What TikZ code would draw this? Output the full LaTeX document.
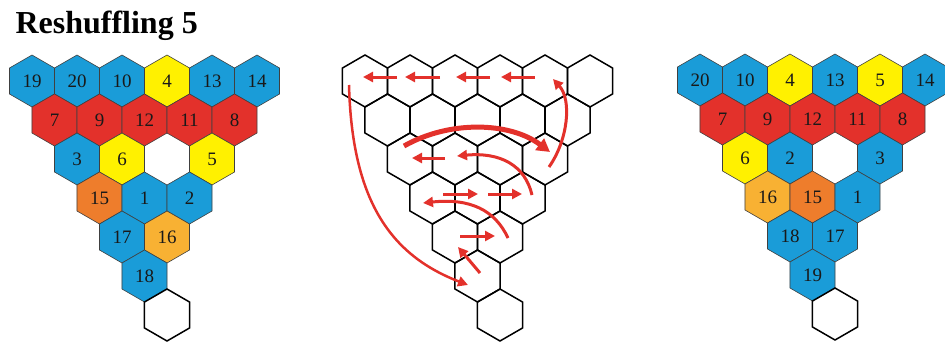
\documentclass[tikz,border=0pt]{standalone}
\usepackage{fontspec}
\setmainfont{Liberation Serif}
\usetikzlibrary{shapes.geometric,arrows.meta}

\definecolor{tileblue}{HTML}{1A9CD8}
\definecolor{tilered}{HTML}{E3312B}
\definecolor{tileyellow}{HTML}{FFF100}
\definecolor{tileorange}{HTML}{EE7D2C}
\definecolor{tilegold}{HTML}{F8B133}
\definecolor{movered}{HTML}{E3312B}

\begin{document}
\begin{tikzpicture}[x=1pt, y=-1pt,
  hexa/.style={regular polygon, regular polygon sides=6, shape border rotate=30,
    minimum size=52pt, inner sep=0pt, outer sep=0pt, draw=black!75, line width=0.6pt,
    font=\fontsize{19}{19}\selectfont, text=black!90},
  blank/.style={hexa, draw=black, line width=1.5pt, fill=white},
  cell/.style={hexa, draw=black, line width=1.5pt},
  move/.style={draw=movered, line width=3pt, -{Triangle[length=10pt,width=10pt]}},
  bigmove/.style={move, line width=5pt, -{Triangle[length=13pt,width=14pt]}}]
  \useasboundingbox (0,0) rectangle (945,343);
  \node[anchor=base west, font=\fontsize{32}{32}\selectfont\bfseries] (title) at (12,33) {Reshuffling 5};

  % row r, place i:  x = x0 + 22.5 r + 45 i,  y = y0 + 39 r
  % before: left triangle, x0 = 32, y0 = 81
  \foreach \r/\i/\n/\c in {0/0/19/tileblue, 0/1/20/tileblue, 0/2/10/tileblue, 0/3/4/tileyellow,
      0/4/13/tileblue, 0/5/14/tileblue,
      1/0/7/tilered, 1/1/9/tilered, 1/2/12/tilered, 1/3/11/tilered, 1/4/8/tilered,
      2/0/3/tileblue, 2/1/6/tileyellow, 2/3/5/tileyellow,
      3/0/15/tileorange, 3/1/1/tileblue, 3/2/2/tileblue,
      4/0/17/tileblue, 4/1/16/tilegold,
      5/0/18/tileblue}
    \node[hexa, fill=\c] (L\n) at ({32+22.5*\r+45*\i}, {81+39*\r}) {\n};
  \node[blank] (Lend) at (167, 315) {};

  % moves: empty grid, x0 = 365, y0 = 81
  \foreach \r in {0,...,5} {
    \pgfmathtruncatemacro\last{5-\r}
    \foreach \i in {0,...,\last}
      \node[cell] (M\r\i) at ({365+22.5*\r+45*\i}, {81+39*\r}) {};
  }
  \node[cell] (M60) at (500, 315) {};

  % tails (t) and heads (h) of the moves
  \coordinate (t20) at (397,77);  \coordinate (h20) at (363,77);
  \coordinate (t10) at (440,77);  \coordinate (h10) at (405,77);
  \coordinate (t4)  at (490,77);  \coordinate (h4)  at (456,77);
  \coordinate (t13) at (535,77);  \coordinate (h13) at (501,77);
  \coordinate (t19) at (349,85);  \coordinate (h19) at (468,285);
  \coordinate (t5)  at (549,167); \coordinate (h5)  at (553,79);
  \coordinate (t3)  at (404,146); \coordinate (h3)  at (550,152);
  \coordinate (t6)  at (445,158); \coordinate (h6)  at (412,158);
  \coordinate (t2)  at (532,195); \coordinate (h2)  at (457,156);
  \coordinate (t15) at (443,194); \coordinate (h15) at (478,194);
  \coordinate (t1)  at (488,194); \coordinate (h1)  at (522,194);
  \coordinate (t16) at (508,238); \coordinate (h16) at (423,203);
  \coordinate (t17) at (460,236); \coordinate (h17) at (495,236);
  \coordinate (t18) at (480,273); \coordinate (h18) at (458,247);

  \foreach \n in {20,10,4,13,6,15,1,17,18}
    \draw[move] (t\n) -- (h\n);
  \draw[move, line width=2.5pt] (t19) .. controls (352,200) and (390,255) .. (h19);
  \draw[move] (t5) .. controls (568,140) and (572,100) .. (h5);
  \draw[bigmove] (t3) .. controls (450,120) and (510,122) .. (h3);
  \draw[move] (t2) .. controls (525,165) and (500,152) .. (h2);
  \draw[move] (t16) .. controls (495,210) and (470,198) .. (h16);

  % after: right triangle, x0 = 700, y0 = 80
  \foreach \r/\i/\n/\c in {0/0/20/tileblue, 0/1/10/tileblue, 0/2/4/tileyellow, 0/3/13/tileblue,
      0/4/5/tileyellow, 0/5/14/tileblue,
      1/0/7/tilered, 1/1/9/tilered, 1/2/12/tilered, 1/3/11/tilered, 1/4/8/tilered,
      2/0/6/tileyellow, 2/1/2/tileblue, 2/3/3/tileblue,
      3/0/16/tilegold, 3/1/15/tileorange, 3/2/1/tileblue,
      4/0/18/tileblue, 4/1/17/tileblue,
      5/0/19/tileblue}
    \node[hexa, fill=\c] (R\n) at ({700+22.5*\r+45*\i}, {80+39*\r}) {\n};
  \node[blank] (Rend) at (835, 314) {};
\end{tikzpicture}
\end{document}
